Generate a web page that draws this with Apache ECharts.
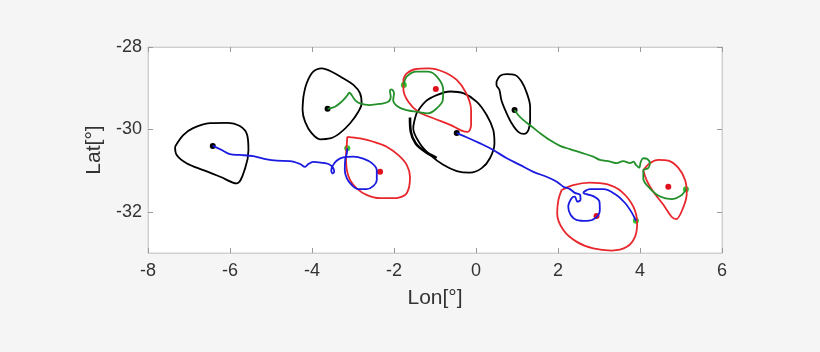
<!DOCTYPE html>
<html>
<head>
<meta charset="utf-8">
<script src="https://cdn.jsdelivr.net/npm/echarts@6/dist/echarts.min.js"></script>
<style>
  html, body { margin: 0; padding: 0; background: #f5f5f5; }
  #chart { width: 820px; height: 352px; }
</style>
</head>
<body>
<div id="chart"></div>
<script>
// eddy contours and tracks, [lon, lat]
const blackLoopW = [[-7.34,-30.42],[-7.14,-30.14],[-6.90,-29.97],[-6.49,-29.85],[-6.08,-29.84],[-5.76,-29.92],[-5.58,-30.14],[-5.55,-30.50],[-5.63,-30.94],[-5.84,-31.31],[-6.24,-31.15],[-6.65,-30.99],[-7.06,-30.82],[-7.30,-30.62],[-7.34,-30.42]];
const blackLoopM = [[-4.21,-29.21],[-4.13,-28.88],[-3.97,-28.60],[-3.76,-28.52],[-3.52,-28.60],[-3.24,-28.76],[-2.99,-28.92],[-2.83,-29.12],[-2.79,-29.37],[-2.87,-29.57],[-3.07,-29.85],[-3.32,-30.09],[-3.56,-30.22],[-3.80,-30.24],[-4.01,-30.09],[-4.17,-29.81],[-4.23,-29.53],[-4.21,-29.21]];
const blackLoopC = [[-1.45,-29.61],[-1.24,-29.33],[-0.96,-29.17],[-0.63,-29.08],[-0.31,-29.12],[0.02,-29.33],[0.26,-29.65],[0.42,-30.01],[0.45,-30.34],[0.34,-30.70],[0.14,-30.94],[-0.15,-31.05],[-0.47,-31.01],[-0.80,-30.86],[-1.12,-30.62],[-1.37,-30.34],[-1.53,-29.98],[-1.45,-29.61]];
const blackStrand = [[-1.61,-29.71],[-1.59,-30.06],[-1.47,-30.34],[-1.24,-30.54],[-0.96,-30.69]];
const blackLoopE = [[0.50,-28.84],[0.59,-28.70],[0.75,-28.66],[0.95,-28.68],[1.11,-28.84],[1.24,-29.12],[1.32,-29.45],[1.32,-29.77],[1.28,-30.01],[1.17,-30.11],[1.03,-30.06],[0.87,-29.85],[0.73,-29.57],[0.62,-29.29],[0.57,-29.04],[0.50,-28.92],[0.50,-28.84]];

const redLoopW = [[-3.14,-30.18],[-2.83,-30.22],[-2.50,-30.30],[-2.18,-30.42],[-1.90,-30.62],[-1.69,-30.86],[-1.61,-31.15],[-1.63,-31.39],[-1.73,-31.59],[-2.02,-31.67],[-2.34,-31.67],[-2.67,-31.59],[-2.91,-31.43],[-3.07,-31.23],[-3.15,-30.99],[-3.17,-30.66],[-3.15,-30.34],[-3.14,-30.18]];
const redLoopM = [[-1.69,-28.64],[-1.49,-28.54],[-1.16,-28.52],[-0.80,-28.60],[-0.47,-28.80],[-0.24,-29.12],[-0.12,-29.53],[-0.12,-29.89],[-0.20,-30.06],[-0.35,-30.03],[-0.63,-29.89],[-1.04,-29.73],[-1.41,-29.57],[-1.65,-29.33],[-1.77,-29.04],[-1.77,-28.80],[-1.69,-28.64]];
const redLoopSE = [[2.09,-31.47],[2.37,-31.35],[2.78,-31.29],[3.19,-31.33],[3.55,-31.51],[3.84,-31.88],[3.93,-32.28],[3.88,-32.60],[3.68,-32.85],[3.31,-32.94],[2.86,-32.89],[2.46,-32.73],[2.13,-32.44],[1.98,-32.04],[2.01,-31.71],[2.09,-31.47]];
const redLoopE = [[4.08,-30.99],[4.24,-30.82],[4.45,-30.74],[4.69,-30.76],[4.94,-30.94],[5.10,-31.23],[5.14,-31.55],[5.06,-31.88],[4.88,-32.18],[4.77,-32.12],[4.57,-31.83],[4.32,-31.51],[4.16,-31.23],[4.08,-30.99]];

const greenTrackW = [[-3.62,-29.50],[-3.44,-29.45],[-3.28,-29.33],[-3.15,-29.19],[-3.09,-29.11],[-3.03,-29.17],[-2.95,-29.29],[-2.83,-29.37],[-2.59,-29.41],[-2.34,-29.38],[-2.14,-29.33],[-2.08,-29.21],[-2.10,-29.06],[-2.06,-29.03],[-2.00,-29.12],[-2.02,-29.29],[-1.90,-29.45],[-1.69,-29.53],[-1.45,-29.57],[-1.17,-29.61],[-0.96,-29.49],[-0.81,-29.29],[-0.80,-29.04],[-0.92,-28.76],[-1.16,-28.60],[-1.45,-28.60],[-1.69,-28.72],[-1.76,-28.92]];
const greenTrackE = [[0.94,-29.53],[1.03,-29.65],[1.15,-29.77],[1.36,-29.93],[1.56,-30.09],[1.80,-30.26],[2.05,-30.40],[2.29,-30.48],[2.58,-30.57],[2.86,-30.66],[3.02,-30.74],[3.27,-30.78],[3.43,-30.82],[3.59,-30.77],[3.76,-30.82],[3.84,-30.78],[3.90,-30.86],[3.98,-30.93],[4.02,-30.78],[4.08,-30.70],[4.18,-30.72],[4.24,-30.82],[4.20,-30.94],[4.08,-30.99],[4.08,-31.19],[4.24,-31.43],[4.49,-31.63],[4.77,-31.69],[5.02,-31.59],[5.12,-31.45]];

const blueTrackW = [[-6.42,-30.40],[-6.20,-30.50],[-6.00,-30.60],[-5.76,-30.62],[-5.43,-30.65],[-5.10,-30.73],[-4.86,-30.76],[-4.54,-30.77],[-4.29,-30.84],[-4.17,-30.91],[-4.09,-30.84],[-3.97,-30.79],[-3.76,-30.81],[-3.60,-30.84],[-3.50,-30.91],[-3.46,-31.03],[-3.50,-31.07],[-3.53,-30.99],[-3.50,-30.89],[-3.40,-30.76],[-3.24,-30.68],[-2.99,-30.66],[-2.75,-30.71],[-2.54,-30.82],[-2.42,-30.99],[-2.42,-31.23],[-2.50,-31.37],[-2.67,-31.45],[-2.87,-31.45],[-3.03,-31.35],[-3.15,-31.19],[-3.20,-30.99],[-3.19,-30.74],[-3.15,-30.58],[-3.14,-30.46]];
const blueTrackE = [[-0.47,-30.09],[-0.23,-30.19],[0.10,-30.34],[0.42,-30.50],[0.75,-30.70],[1.07,-30.86],[1.40,-31.03],[1.72,-31.15],[1.97,-31.27],[2.13,-31.39],[2.29,-31.45],[2.41,-31.54],[2.54,-31.59],[2.55,-31.71],[2.47,-31.75],[2.41,-31.63],[2.33,-31.67],[2.25,-31.88],[2.31,-32.08],[2.46,-32.20],[2.70,-32.22],[2.90,-32.16],[3.02,-31.96],[3.01,-31.75],[2.86,-31.62],[2.62,-31.54],[2.78,-31.45],[3.11,-31.45],[3.39,-31.57],[3.63,-31.78],[3.80,-32.02],[3.90,-32.22]];

const blackDots = [[-6.42,-30.40],[-3.62,-29.50],[-0.47,-30.09],[0.94,-29.53]];
const greenDots = [[-3.14,-30.46],[-1.76,-28.92],[3.90,-32.22],[5.12,-31.45]];
const redDots = [[-2.34,-31.03],[-0.98,-29.02],[2.94,-32.10],[4.69,-31.39]];

const xTicks = [-8, -6, -4, -2, 0, 2, 4, 6];
const yTicks = [-32, -30, -28];

const C = { black: '#000000', red: '#e8262b', green: '#23902a', blue: '#1a1ae0', dotGreen: '#2ec72e' };
const FONT = 'Liberation Sans, Arial, sans-serif';

function line(data, color, width) {
  return {
    type: 'line', data: data, smooth: 0.35, symbol: 'none', silent: true,
    lineStyle: { color: color, width: width || 1.8 }
  };
}
function dots(data, color) {
  return {
    type: 'scatter', data: data, symbolSize: 6, silent: true,
    itemStyle: { color: color, opacity: 1 }
  };
}

const tickStyle = { show: true, inside: true, length: 5, lineStyle: { color: '#9a9a9a' } };
const axisFont = { color: '#333', fontSize: 18, fontFamily: FONT };
const lineStyleAxis = { show: true, onZero: false, lineStyle: { color: '#cfcfcf' } };

const chart = echarts.init(document.getElementById('chart'));
chart.setOption({
  backgroundColor: '#f5f5f5',
  animation: false,
  grid: { left: 148, top: 47, right: 98, bottom: 99, show: true, backgroundColor: '#ffffff', borderColor: '#d4d4d4', borderWidth: 1 },
  xAxis: [{
    type: 'value', min: -8, max: 6, interval: 2, position: 'bottom',
    axisLine: lineStyleAxis,
    axisTick: Object.assign({ customValues: xTicks }, tickStyle),
    axisLabel: Object.assign({ margin: 9, customValues: xTicks }, axisFont),
    splitLine: { show: false },
    name: 'Lon[°]', nameLocation: 'middle', nameGap: 35,
    nameTextStyle: { color: '#333', fontSize: 21, fontFamily: FONT }
  }, {
    type: 'value', min: -8, max: 6, interval: 2, position: 'top',
    axisLine: lineStyleAxis,
    axisTick: Object.assign({ customValues: xTicks }, tickStyle),
    axisLabel: { show: false }, splitLine: { show: false }
  }],
  yAxis: [{
    type: 'value', min: -33, max: -28, position: 'left',
    axisLine: lineStyleAxis,
    axisTick: Object.assign({ customValues: yTicks }, tickStyle),
    axisLabel: Object.assign({ margin: 6, customValues: yTicks }, axisFont),
    splitLine: { show: false },
    name: 'Lat[°]', nameLocation: 'middle', nameGap: 39,
    nameTextStyle: { color: '#333', fontSize: 21, fontFamily: FONT }
  }, {
    type: 'value', min: -33, max: -28, position: 'right',
    axisLine: lineStyleAxis,
    axisTick: Object.assign({ customValues: yTicks }, tickStyle),
    axisLabel: { show: false }, splitLine: { show: false }
  }],
  series: [
    line(blackLoopW, C.black), line(blackLoopM, C.black), line(blackLoopC, C.black),
    line(blackStrand, C.black, 2.6), line(blackLoopE, C.black),
    line(redLoopW, C.red), line(redLoopM, C.red), line(redLoopSE, C.red), line(redLoopE, C.red),
    line(greenTrackW, C.green), line(greenTrackE, C.green),
    dots(redDots, '#e0101e'),
    line(blueTrackW, C.blue), line(blueTrackE, C.blue),
    dots(blackDots, C.black), dots(greenDots, C.dotGreen)
  ]
});
</script>
</body>
</html>
